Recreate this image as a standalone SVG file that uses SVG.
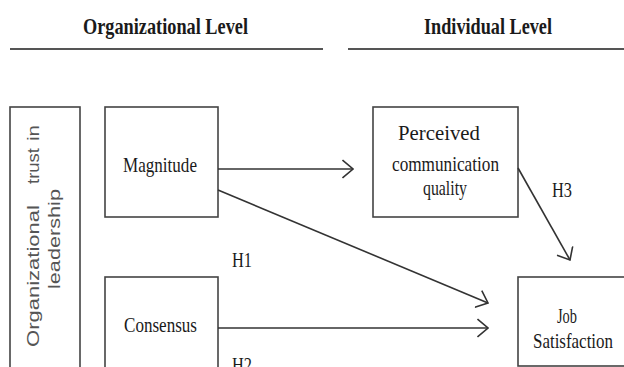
<svg xmlns="http://www.w3.org/2000/svg" width="624" height="367" viewBox="0 0 624 367">
<style>
.box{fill:#fff;stroke:#444;stroke-width:1.6}
.hdr{font-family:"Liberation Serif","Times New Roman",serif;font-weight:bold;font-size:24px;fill:#1a1a1a}
.t{font-family:"Liberation Serif","Times New Roman",serif;font-size:22px;fill:#1a1a1a}
.v{font-family:"Liberation Sans",Arial,sans-serif;font-size:17px;fill:#555}
.rule{stroke:#555;stroke-width:2.2}
.edge{stroke:#333;stroke-width:1.6;fill:none}
</style>
<defs>
<marker id="arr" viewBox="0 0 12 20" refX="11" refY="10" markerWidth="12" markerHeight="20" markerUnits="userSpaceOnUse" orient="auto">
<path d="M0.5,1 L11,10 L0.5,19" fill="none" stroke="#333" stroke-width="1.6"/>
</marker>
</defs>
<rect width="624" height="367" fill="#fff"/>
<g id="header">
<text class="hdr" x="83" y="34" textLength="165" lengthAdjust="spacingAndGlyphs">Organizational  Level</text>
<text class="hdr" x="424" y="34" textLength="128" lengthAdjust="spacingAndGlyphs">Individual  Level</text>
<line class="rule" x1="10" y1="49" x2="323" y2="49"/>
<line class="rule" x1="348" y1="49" x2="624" y2="49"/>
</g>
<g id="trust">
<rect class="box" x="10" y="107" width="70" height="270"/>
<text class="v" transform="translate(39,347) rotate(-90)" x="0" y="0" textLength="142" lengthAdjust="spacingAndGlyphs">Organizational</text>
<text class="v" transform="translate(39,184) rotate(-90)" x="0" y="0" textLength="36" lengthAdjust="spacingAndGlyphs">trust</text>
<text class="v" transform="translate(39,141) rotate(-90)" x="0" y="0" textLength="16" lengthAdjust="spacingAndGlyphs">in</text>
<text class="v" transform="translate(60,289) rotate(-90)" x="0" y="0" textLength="100" lengthAdjust="spacingAndGlyphs">leadership</text>
</g>
<g id="magnitude">
<rect class="box" x="105" y="107" width="113" height="110"/>
<text class="t" x="123" y="172" textLength="74" lengthAdjust="spacingAndGlyphs">Magnitude</text>
</g>
<g id="consensus">
<rect class="box" x="105" y="277" width="113" height="100"/>
<text class="t" x="124" y="332" textLength="73" lengthAdjust="spacingAndGlyphs">Consensus</text>
</g>
<g id="perceived">
<rect class="box" x="373" y="107" width="145" height="110"/>
<text class="t" x="398" y="140" textLength="82" lengthAdjust="spacingAndGlyphs">Perceived</text>
<text class="t" x="392" y="171" textLength="107" lengthAdjust="spacingAndGlyphs">communication</text>
<text class="t" x="423" y="195" textLength="44" lengthAdjust="spacingAndGlyphs">quality</text>
</g>
<g id="job">
<rect class="box" x="518" y="277" width="120" height="89"/>
<text class="t" x="557" y="323" textLength="20" lengthAdjust="spacingAndGlyphs">Job</text>
<text class="t" x="533" y="348" textLength="80" lengthAdjust="spacingAndGlyphs">Satisfaction</text>
</g>
<g id="connectors">
<line class="edge" x1="218" y1="169" x2="353" y2="169" marker-end="url(#arr)"/>
<line class="edge" x1="218" y1="190" x2="488" y2="303" marker-end="url(#arr)"/>
<line class="edge" x1="218" y1="328" x2="488" y2="328" marker-end="url(#arr)"/>
<line class="edge" x1="518" y1="168" x2="570" y2="260" marker-end="url(#arr)"/>
</g>
<g id="labels">
<text class="t" x="232" y="267" textLength="20" lengthAdjust="spacingAndGlyphs">H1</text>
<text class="t" x="232" y="372" textLength="20" lengthAdjust="spacingAndGlyphs">H2</text>
<text class="t" x="552" y="197" textLength="20" lengthAdjust="spacingAndGlyphs">H3</text>
</g>
</svg>
